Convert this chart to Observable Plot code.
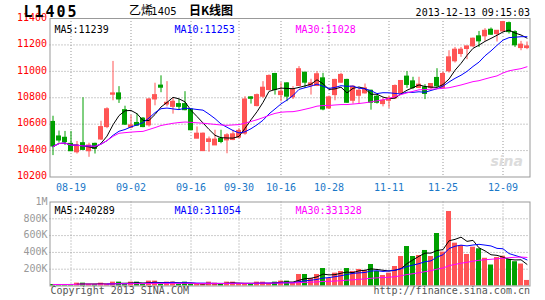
<!DOCTYPE html>
<html><head><meta charset="utf-8">
<script src="https://cdn.jsdelivr.net/npm/d3@7"></script>
<script src="https://cdn.jsdelivr.net/npm/@observablehq/plot@0.6"></script>
<style>
body{margin:0;background:#fff;}
#chart{width:545px;height:300px;position:relative;overflow:hidden;background:#fff;}
#chart svg{display:block;overflow:visible;}
</style></head><body><div id="chart"></div>
<script>
// ---- data ----
const opens  = [10617,10507,10497,10451,10387,10456,10395,10451,10484,10578,10823,10833,10706,10573,10609,10642,10591,10787,10892,10749,
                10731,10752,10752,10711,10490,10396,10465,10439,10490,10477,10480,10498,10528,10803,10737,10808,10858,10980,10820,10909,
                10803,10889,10990,10891,10889,10947,10719,10820,10914,10935,10777,10815,10833,10853,10808,10752,10777,10795,10833,10960,
                10924,10874,10879,10874,10950,10874,11000,11076,11131,11169,11189,11265,11265,11315,11282,11302,11365,11297,11176,11176];
const highs  = [10660,10548,10545,10545,10469,10800,10456,10456,10622,10724,11075,10884,10736,10667,10680,10650,10795,10910,10966,10922,
                10795,10787,10846,10719,10579,10533,10503,10554,10554,10528,10554,10566,10808,10808,10828,10922,10973,10985,10914,10914,
                10884,11036,10990,10940,10998,10985,10813,10940,10985,10940,10889,10871,10904,10858,10820,10795,10813,10897,10930,10998,
                10955,10955,10899,10904,11020,10995,11156,11181,11181,11189,11252,11302,11323,11328,11307,11378,11373,11307,11227,11222];
const lows   = [10362,10456,10438,10395,10374,10400,10349,10374,10476,10566,10777,10757,10591,10566,10583,10573,10578,10739,10838,10731,
                10676,10706,10701,10549,10490,10396,10388,10439,10452,10376,10475,10490,10516,10752,10731,10795,10853,10820,10770,10770,
                10787,10884,10871,10820,10884,10701,10711,10777,10909,10757,10752,10752,10828,10706,10752,10731,10719,10787,10828,10871,
                10861,10869,10786,10861,10874,10869,10987,11063,11106,11088,11181,11181,11227,11272,11222,11297,11282,11181,11156,11164];
const closes = [10431,10476,10464,10395,10438,10405,10438,10413,10578,10713,10833,10787,10596,10591,10589,10578,10787,10820,10876,10762,
                10770,10731,10706,10554,10528,10528,10485,10483,10465,10516,10523,10549,10787,10792,10820,10876,10965,10858,10846,10808,
                10864,11016,10914,10909,10978,10711,10803,10935,10973,10762,10884,10853,10871,10762,10762,10777,10795,10889,10927,10897,
                10874,10899,10829,10904,10887,10980,11106,11164,11164,11189,11247,11227,11307,11277,11307,11373,11297,11197,11202,11189];
// volume in thousands
const volumes = [18,18,18,18,34,34,18,18,34,18,46,46,18,46,46,18,58,58,18,46,
                 46,18,46,18,18,18,46,34,18,46,46,25,25,18,46,46,30,46,58,58,
                 42,137,137,89,137,208,89,153,173,208,173,197,185,256,173,125,153,232,351,470,
                 351,363,423,351,625,403,887,510,482,375,462,443,330,250,339,355,316,289,261,66];

const tickIndex  = [3,13,23,31,38,46,56,65,75];
const tickLabels = ["08-19","09-02","09-16","09-30","10-16","10-28","11-11","11-25","12-09"];
const priceTicks  = [10200,10400,10600,10800,11000,11200,11400];
const volumeTicks = [200,400,600,800,1000];
const symbol = "L1405";
const titleParts = ["乙烯", "1405", "-", "日K线图"];
const timestamp = "2013-12-13 09:15:03";
const priceMA  = ["MA5:11239","MA10:11253","MA30:11028"];
const volumeMA = ["MA5:240289","MA10:311054","MA30:331328"];
const maPeriods = [5,10,30];
const maColors  = ["#000000","#0000ff","#ff00ff"];
const copyright = "Copyright 2013 SINA.COM";
const siteUrl = "http://finance.sina.com.cn";

// ---- styling ----
const RED = "#ff5555", GREEN = "#00a000";
const MONO = "'DejaVu Sans Mono', monospace";
const CJK = "'Noto Sans CJK SC', sans-serif";
const ML = 49.5, MR = 15.5;
const textX = [4.5, 124.5, 245.5];
const grid = {stroke:"#999", strokeDasharray:"1,2", strokeWidth:1, strokeOpacity:1};

const n = closes.length;
const idx = d3.range(n);
const rows = idx.map(i => ({
  i, open: opens[i], high: highs[i], low: lows[i], close: closes[i],
  volume: volumes[i], color: closes[i] >= opens[i] ? RED : GREEN
}));
const xOpts = () => ({type:"band", domain: idx, paddingInner:0.2, paddingOuter:0.1, axis:null, label:null});

const price = Plot.plot({
  width:545, height:196, marginLeft:ML, marginRight:MR, marginTop:18, marginBottom:19.5,
  x: xOpts(),
  y: {domain:[10200,11400], axis:null, label:null},
  color: {type:"identity"},
  style: {fontFamily: MONO, fontSize:"10px", background:"transparent", overflow:"visible"},
  marks: [
    Plot.ruleY(priceTicks.slice(1,-1), grid),
    Plot.ruleX(tickIndex, grid),
    Plot.text(["sina"], {text:d=>d, frameAnchor:"bottom-right", dx:-7, dy:-11, fill:"#dcdcdc",
      fontSize:14, fontWeight:"bold", fontStyle:"italic", fontFamily:"'DejaVu Sans', sans-serif", textAnchor:"end"}),
    Plot.ruleX(rows, {x:"i", y1:"low", y2:"high", stroke:"color", strokeWidth:1}),
    Plot.barY(rows, {x:"i", y1:"open", y2:"close", fill:"color", insetTop:-0.5, insetBottom:-0.5}),
    ...maPeriods.map((k,j) => Plot.lineY(rows, Plot.windowY({k, anchor:"end", strict:false},
        {x:"i", y:"close", stroke:maColors[j], strokeWidth:1}))),
    Plot.frame({stroke:"#999"}),
    Plot.axisY(priceTicks, {label:null, tickSize:0, tickPadding:3, color:"#ff0000", dy:-1, tickFormat:d=>String(d)}),
    Plot.axisX(tickIndex, {label:null, tickSize:0, tickPadding:7, color:"#1a78c8", tickFormat:i=>tickLabels[tickIndex.indexOf(i)]}),
    ...priceMA.map((t,j) => Plot.text([t], {text:d=>d, frameAnchor:"top-left", dx:textX[j], dy:7,
        textAnchor:"start", fill:maColors[j]}))
  ]
});

const volume = Plot.plot({
  width:545, height:104, marginLeft:ML, marginRight:MR, marginTop:5.5, marginBottom:14.5,
  x: xOpts(),
  y: {domain:[0,1000], axis:null, label:null},
  color: {type:"identity"},
  style: {fontFamily: MONO, fontSize:"10px", background:"transparent", overflow:"visible"},
  marks: [
    Plot.ruleY(volumeTicks.slice(0,-1), grid),
    Plot.ruleX(tickIndex, grid),
    Plot.barY(rows, {x:"i", y1:0, y2:"volume", fill:"color"}),
    ...maPeriods.map((k,j) => Plot.lineY(rows, Plot.windowY({k, anchor:"end", strict: k < 30},
        {x:"i", y:"volume", stroke:maColors[j], strokeWidth:1}))),
    Plot.frame({stroke:"#999"}),
    Plot.axisY(volumeTicks, {label:null, tickSize:0, tickPadding:2.5, color:"#999", dy:-0.5,
        tickFormat:v => v >= 1000 ? "1M" : v + "K"}),
    ...volumeMA.map((t,j) => Plot.text([t], {text:d=>d, frameAnchor:"top-left", dx:textX[j], dy:4.5,
        textAnchor:"start", fill:maColors[j]})),
    Plot.text([copyright], {text:d=>d, frameAnchor:"bottom-left", dx:0.5, dy:7.5, textAnchor:"start", fill:"#555"}),
    Plot.text([siteUrl], {text:d=>d, frameAnchor:"bottom-right", dx:0, dy:7.5, textAnchor:"end", fill:"#555"})
  ]
});

// header texts
const s = d3.select(price);
const addText = (t, x, y, attrs) => {
  const e = s.append("text").attr("x", x).attr("y", y).attr("fill", "#000");
  for (const [k, v] of Object.entries(attrs)) e.attr(k, v);
  e.text(t);
  return e;
};
addText(symbol, 51, 16.8, {"font-family":MONO, "font-weight":"bold", "font-size":15, "letter-spacing":2});
addText(titleParts[0], 141, 14.6, {"font-family":CJK, "font-size":12});
addText(titleParts[1], 164, 14.6, {"font-family":"'DejaVu Sans', sans-serif", "font-size":10});
addText(titleParts[2], 193.5, 14.2, {"font-family":MONO, "font-size":14, "font-weight":"bold"});
addText(titleParts[3], 211, 14.6, {"font-family":CJK, "font-size":12, "font-weight":"bold"});
addText(timestamp, 530, 15.5, {"font-family":MONO, "font-size":10, "text-anchor":"end"});

const chart = document.getElementById("chart");
chart.append(price);
chart.append(volume);
</script>
</body></html>
